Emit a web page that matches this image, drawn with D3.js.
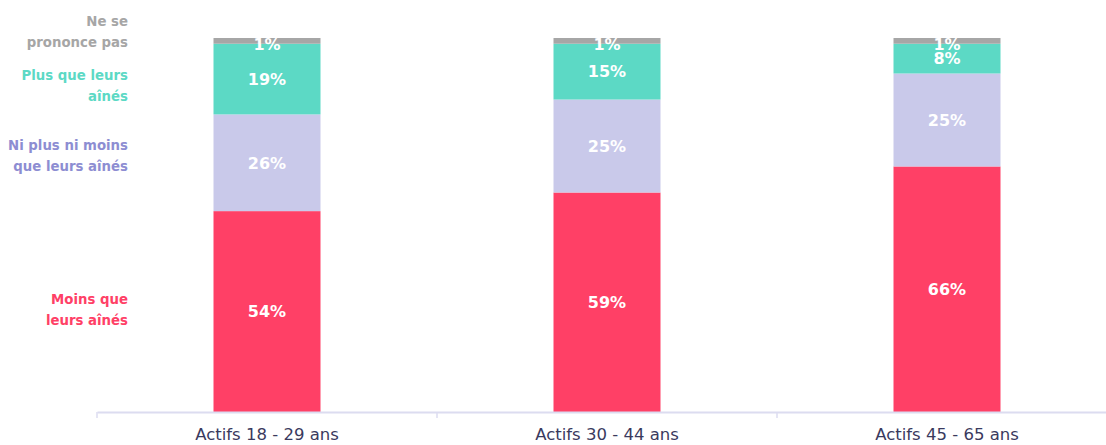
<!DOCTYPE html>
<html><head><meta charset="utf-8">
<script src="https://cdn.jsdelivr.net/npm/d3@7/dist/d3.min.js"></script>
<style>body{margin:0;background:#fff}svg{display:block}</style>
</head><body>
<svg id="c" width="1106" height="445"></svg>
<script>
const categories = ["Actifs 18 - 29 ans", "Actifs 30 - 44 ans", "Actifs 45 - 65 ans"];
const seriesNames = ["Moins que leurs aînés", "Ni plus ni moins que leurs aînés", "Plus que leurs aînés", "Ne se prononce pas"];
const moins = [54, 59, 66];
const niPlusNiMoins = [26, 25, 25];
const plus = [19, 15, 8];
const nsp = [1, 1, 1];
const legendLines = [["Moins que", "leurs aînés"], ["Ni plus ni moins", "que leurs aînés"], ["Plus que leurs", "aînés"], ["Ne se", "prononce pas"]];
const colors = ["#ff4066", "#c9c9ea", "#5cd9c5", "#a6a6a6"];
const legendColors = ["#ff4066", "#8d8dd2", "#5cd9c5", "#a6a6a6"];

const series = [moins, niPlusNiMoins, plus, nsp];
const rows = categories.map((c, i) => {
  const r = {cat: c};
  seriesNames.forEach((s, j) => r[s] = series[j][i]);
  return r;
});
const stacked = d3.stack().keys(seriesNames)(rows);

const svg = d3.select("#c");
const font = "'DejaVu Sans', sans-serif";
const x = d3.scaleBand().domain(categories).range([97, 1117]).paddingInner(0).paddingOuter(0);
const y = d3.scaleLinear().domain([0, 100]).range([412, 40]);
const barW = 107;

const g = svg.append("g");
stacked.forEach((s, j) => {
  g.selectAll(null).data(s).enter().append("rect")
    .attr("x", d => x(d.data.cat) + x.bandwidth() / 2 - barW / 2)
    .attr("width", barW)
    .attr("y", d => j === 3 ? y(d[1]) - 2 : y(d[1]))
    .attr("height", d => y(d[0]) - y(d[1]) + (j === 3 ? 2 : 0))
    .attr("fill", colors[j]);
});
stacked.forEach((s, j) => {
  g.selectAll(null).data(s).enter().append("text")
    .attr("x", d => x(d.data.cat) + x.bandwidth() / 2)
    .attr("y", d => j === 3 ? y(d[1]) + 4 : (y(d[0]) + y(d[1])) / 2)
    .attr("dy", "0.36em")
    .attr("text-anchor", "middle")
    .attr("fill", "#fff")
    .attr("font-family", font)
    .attr("font-weight", "bold")
    .attr("font-size", 16)
    .text(d => (d[1] - d[0]) + "%");
});

// axis
const axis = svg.append("g").attr("transform", "translate(0,412)")
  .call(d3.axisBottom(x).tickSize(0).tickPadding(16));
axis.select(".domain").attr("stroke", "#dcdcf0").attr("stroke-width", 2);
axis.selectAll(".tick text").attr("font-family", font).attr("font-size", 16.5).attr("fill", "#3a3a5e");
const bounds = [97, 437, 777];
axis.selectAll(".bnd").data(bounds).enter().append("line")
  .attr("x1", d => d).attr("x2", d => d).attr("y1", 0).attr("y2", 6)
  .attr("stroke", "#dcdcf0").attr("stroke-width", 1.5);

// legend labels
const legendY = [310, 156, 86, 32];
legendLines.forEach((lines, j) => {
  const t = svg.append("text")
    .attr("text-anchor", "end")
    .attr("font-family", font)
    .attr("font-weight", "bold")
    .attr("font-size", 13.3)
    .attr("fill", legendColors[j]);
  lines.forEach((l, k) => {
    t.append("tspan").attr("x", 128).attr("y", legendY[j] + (k - (lines.length - 1) / 2) * 21).attr("dy", "0.36em").text(l);
  });
});
</script>
</body></html>
